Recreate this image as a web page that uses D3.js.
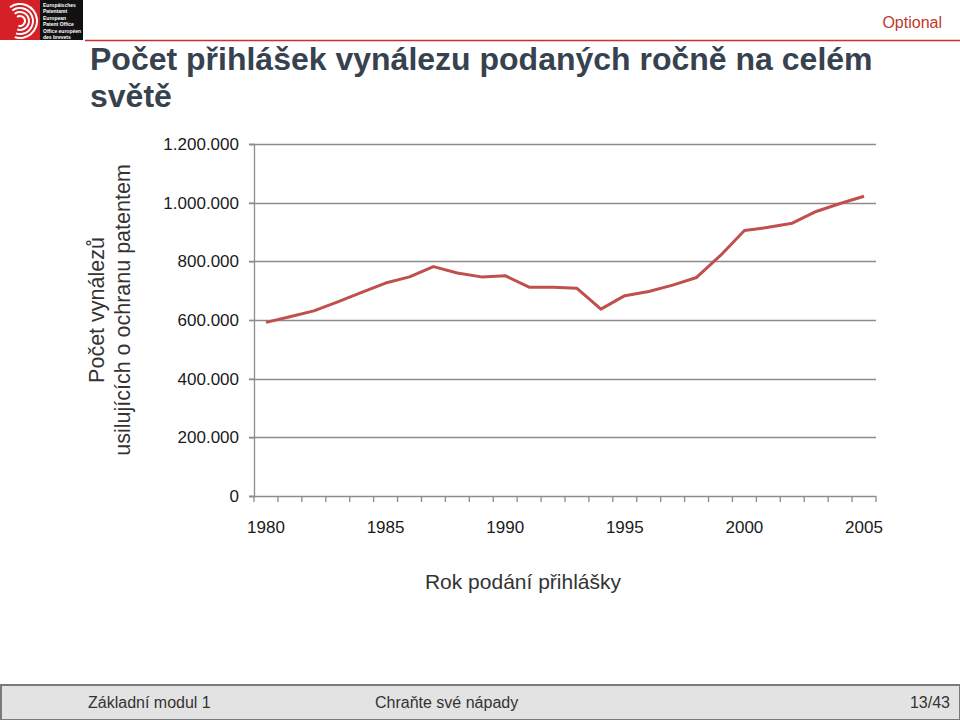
<!DOCTYPE html>
<html><head><meta charset="utf-8">
<script src="https://cdn.jsdelivr.net/npm/d3@7"></script>
<style>html,body{margin:0;padding:0;background:#fff;}svg{display:block;}</style>
</head><body>
<script>
const years = d3.range(1980, 2006);
const applications = [592000, 611000, 631000, 662000, 694000, 726000, 747000, 782000, 760000, 747000, 751000, 712000, 712000, 708000, 637000, 683000, 697000, 719000, 745000, 820000, 905000, 916000, 930000, 970000, 997000, 1022000];
const yTicks = [0, 200000, 400000, 600000, 800000, 1000000, 1200000];
const xLabelYears = [1980, 1985, 1990, 1995, 2000, 2005];
const titleLines = ["Počet přihlášek vynálezu podaných ročně na celém", "světě"];
const yTitleLines = ["Počet vynálezů", "usilujících o ochranu patentem"];
const xTitle = "Rok podání přihlášky";
const footerTexts = ["Základní modul 1", "Chraňte své nápady", "13/43"];

const W = 960, H = 720;
const svg = d3.select("body").append("svg").attr("width", W).attr("height", H);

// Header logo
const logo = svg.append("g");
logo.append("rect").attr("x", 0).attr("y", 0).attr("width", 40).attr("height", 40).attr("fill", "#d62027");
[6, 10, 14, 18].forEach((r, i) => {
  logo.append("path")
    .attr("d", d3.arc()({innerRadius: r - 2, outerRadius: r, startAngle: -Math.PI * 0.2, endAngle: Math.PI * 1.1}))
    .attr("transform", "translate(20,21)").attr("fill", "#fff");
});
logo.append("rect").attr("x", 40).attr("y", 0).attr("width", 43).attr("height", 40).attr("fill", "#111");
const logoTxt = ["Europäisches", "Patentamt", "European", "Patent Office", "Office européen", "des brevets"];
logoTxt.forEach((t, i) => {
  logo.append("text").attr("x", 43).attr("y", 7 + i * 6 + Math.floor(i / 2) * 1).text(t)
    .attr("font-family", "Liberation Sans, Arial, sans-serif").attr("font-size", 5).attr("font-weight", "bold").attr("fill", "#fff");
});

svg.append("line").attr("x1", 85).attr("x2", 960).attr("y1", 40.5).attr("y2", 40.5).attr("stroke", "#c8322d").attr("stroke-width", 1.5);
svg.append("text").attr("x", 942).attr("y", 28).attr("text-anchor", "end").text("Optional")
  .attr("font-family", "Liberation Sans, Arial, sans-serif").attr("font-size", 16).attr("fill", "#c0392b");

// Title
titleLines.forEach((t, i) => {
  svg.append("text").attr("x", 90).attr("y", 70 + i * 37).text(t)
    .attr("font-family", "Liberation Sans, Arial, sans-serif").attr("font-size", 32).attr("font-weight", "bold").attr("fill", "#37424f");
});

// Chart
const plot = {left: 254, right: 876, top: 144, bottom: 496};
const x = d3.scaleBand().domain(years).range([plot.left, plot.right]).padding(0);
const y = d3.scaleLinear().domain([0, 1200000]).range([plot.bottom, plot.top]);
const fmt = v => d3.format(",")(v).replace(/,/g, ".");

// gridlines
svg.append("g").selectAll("line").data(yTicks.filter(d => d > 0)).join("line")
  .attr("x1", plot.left - 5).attr("x2", plot.right)
  .attr("y1", d => Math.round(y(d)) + 0.5).attr("y2", d => Math.round(y(d)) + 0.5)
  .attr("stroke", "#8c8c8c").attr("stroke-width", 1.3);

// y axis
const yAxis = svg.append("g").attr("transform", `translate(${plot.left},0)`)
  .call(d3.axisLeft(y).tickValues(yTicks).tickFormat(fmt).tickSize(5).tickPadding(10));
yAxis.select(".domain").attr("stroke", "#8c8c8c").attr("stroke-width", 1.3);
yAxis.selectAll(".tick line").attr("stroke", "#8c8c8c").attr("stroke-width", 1.3);
yAxis.selectAll(".tick text").attr("font-family", "Liberation Sans Narrow, Liberation Sans, Arial, sans-serif")
  .attr("font-size", 17).attr("fill", "#1a1a1a");

// x axis: ticks at band boundaries
const xAxisG = svg.append("g").attr("transform", `translate(0,${plot.bottom})`);
xAxisG.append("line").attr("x1", plot.left - 5).attr("x2", plot.right).attr("y1", 0.5).attr("y2", 0.5)
  .attr("stroke", "#8c8c8c").attr("stroke-width", 1.3);
const boundaries = years.map(d => x(d)).concat([x(years[years.length - 1]) + x.bandwidth()]);
xAxisG.selectAll("line.tk").data(boundaries).join("line").attr("class", "tk")
  .attr("x1", d => d).attr("x2", d => d).attr("y1", 0).attr("y2", 6)
  .attr("stroke", "#8c8c8c").attr("stroke-width", 1.3);
xAxisG.selectAll("text").data(xLabelYears).join("text")
  .attr("x", d => x(d) + x.bandwidth() / 2).attr("y", 37).attr("text-anchor", "middle").text(d => d)
  .attr("font-family", "Liberation Sans Narrow, Liberation Sans, Arial, sans-serif").attr("font-size", 17).attr("fill", "#1a1a1a");

// line
const line = d3.line().x((d, i) => x(years[i]) + x.bandwidth() / 2).y(d => y(d));
svg.append("path").datum(applications).attr("d", line).attr("fill", "none")
  .attr("stroke", "#c0504d").attr("stroke-width", 3).attr("stroke-linejoin", "round");

// axis titles
const yt = svg.append("text").attr("transform", "translate(104,310) rotate(-90)").attr("text-anchor", "middle")
  .attr("font-family", "Liberation Sans, Arial, sans-serif").attr("font-size", 21.5).attr("fill", "#333");
yTitleLines.forEach((t, i) => yt.append("tspan").attr("x", 0).attr("dy", i === 0 ? 0 : 26).text(t));

svg.append("text").attr("x", 523).attr("y", 589).attr("text-anchor", "middle").text(xTitle)
  .attr("font-family", "Liberation Sans, Arial, sans-serif").attr("font-size", 21).attr("fill", "#333");

// footer
svg.append("rect").attr("x", 1).attr("y", 685).attr("width", W - 1).attr("height", 35)
  .attr("fill", "#e3e3e3").attr("stroke", "#7a7a7a").attr("stroke-width", 2);
const fx = [88, 375, 950], fa = ["start", "start", "end"];
footerTexts.forEach((t, i) => {
  svg.append("text").attr("x", fx[i]).attr("y", 708).attr("text-anchor", fa[i]).text(t)
    .attr("font-family", "Liberation Sans, Arial, sans-serif").attr("font-size", 16).attr("fill", "#333");
});
</script>
</body></html>
